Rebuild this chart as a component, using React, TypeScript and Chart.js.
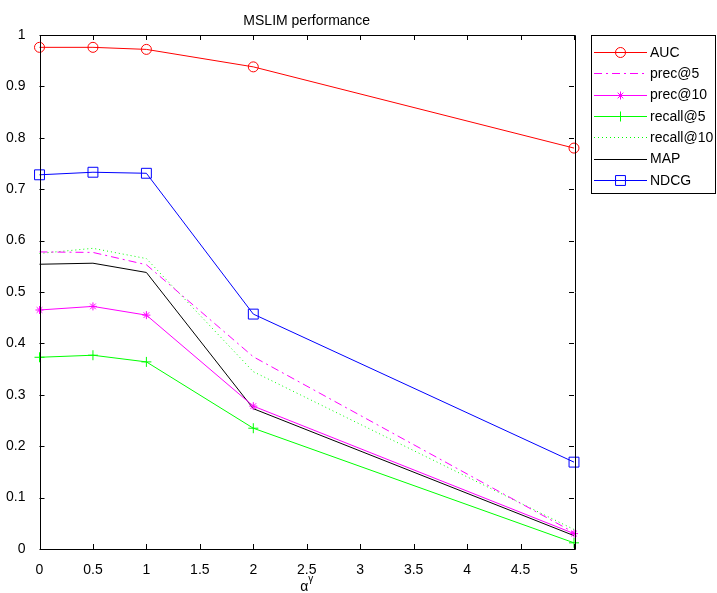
import React, { useEffect, useRef } from 'react';
import { Chart, registerables } from 'chart.js';

Chart.register(...registerables);

// ---- data ----
const xValues = [0, 0.5, 1, 2, 5];
const aucValues = [0.976, 0.976, 0.972, 0.938, 0.78];
const prec5Values = [0.578, 0.577, 0.553, 0.374, 0.032];
const prec10Values = [0.465, 0.472, 0.455, 0.278, 0.03];
const recall5Values = [0.373, 0.377, 0.364, 0.235, 0.012];
const recall10Values = [0.575, 0.585, 0.565, 0.345, 0.038];
const mapValues = [0.554, 0.556, 0.538, 0.273, 0.026];
const ndcgValues = [0.728, 0.733, 0.731, 0.457, 0.169];
const seriesNames = ['AUC', 'prec@5', 'prec@10', 'recall@5', 'recall@10', 'MAP', 'NDCG'];
const xTickValues = [0, 0.5, 1, 1.5, 2, 2.5, 3, 3.5, 4, 4.5, 5];
const yTickValues = [0, 0.1, 0.2, 0.3, 0.4, 0.5, 0.6, 0.7, 0.8, 0.9, 1];
const titleText = 'MSLIM performance';
const xLabelBase = 'α';
const xLabelSup = 'γ';

const FONT = '"Liberation Sans", Arial, Helvetica, sans-serif';

const toPoints = (vals: number[]) => vals.map((v, i) => ({ x: xValues[i], y: v }));

function drawMarker(ctx: CanvasRenderingContext2D, style: string, x: number, y: number, r: number) {
  ctx.beginPath();
  if (style === 'circle') {
    ctx.arc(x, y, r, 0, Math.PI * 2);
  } else if (style === 'rect') {
    const h = r * Math.SQRT1_2;
    ctx.rect(x - h, y - h, 2 * h, 2 * h);
  } else if (style === 'cross') {
    ctx.moveTo(x - r, y); ctx.lineTo(x + r, y);
    ctx.moveTo(x, y - r); ctx.lineTo(x, y + r);
  } else if (style === 'star') {
    ctx.moveTo(x - r, y); ctx.lineTo(x + r, y);
    ctx.moveTo(x, y - r); ctx.lineTo(x, y + r);
    const d = r * Math.SQRT1_2;
    ctx.moveTo(x - d, y - d); ctx.lineTo(x + d, y + d);
    ctx.moveTo(x - d, y + d); ctx.lineTo(x + d, y - d);
  }
  ctx.stroke();
}

const decorPlugin = {
  id: 'matlabDecor',
  afterDatasetsDraw(chart: any) {
    const ctx: CanvasRenderingContext2D = chart.ctx;
    const { left, right, top, bottom } = chart.chartArea;
    const xs = chart.scales.x;
    const ys = chart.scales.y;
    ctx.save();
    // frame
    ctx.strokeStyle = '#000';
    ctx.lineWidth = 1;
    ctx.setLineDash([]);
    ctx.beginPath();
    ctx.rect(Math.round(left) + 0.5, Math.round(top) + 0.5, Math.round(right - left), Math.round(bottom - top));
    ctx.stroke();
    // inward ticks
    const tl = 5;
    ctx.beginPath();
    xs.ticks.forEach((t: any) => {
      const px = Math.round(xs.getPixelForValue(t.value)) + 0.5;
      ctx.moveTo(px, bottom); ctx.lineTo(px, bottom - tl);
      ctx.moveTo(px, top); ctx.lineTo(px, top + tl);
    });
    ys.ticks.forEach((t: any) => {
      const py = Math.round(ys.getPixelForValue(t.value)) + 0.5;
      ctx.moveTo(left, py); ctx.lineTo(left + tl, py);
      ctx.moveTo(right, py); ctx.lineTo(right - tl, py);
    });
    ctx.stroke();

    // title
    ctx.fillStyle = '#000';
    ctx.font = `14px ${FONT}`;
    ctx.textAlign = 'center';
    ctx.textBaseline = 'middle';
    ctx.fillText(titleText, (left + right) / 2, 21);

    // x label with superscript
    ctx.font = `14px ${FONT}`;
    const wBase = ctx.measureText(xLabelBase).width;
    ctx.font = `10px ${FONT}`;
    const wSup = ctx.measureText(xLabelSup).width;
    const startX = (left + right) / 2 - (wBase + wSup) / 2;
    ctx.textAlign = 'left';
    ctx.textBaseline = 'alphabetic';
    ctx.font = `14px ${FONT}`;
    ctx.fillText(xLabelBase, startX, 591);
    ctx.font = `10px ${FONT}`;
    ctx.fillText(xLabelSup, startX + wBase, 582);

    // legend
    const bx = 591, by = 35, bw = 125, bh = 158;
    ctx.fillStyle = '#fff';
    ctx.fillRect(bx, by, bw, bh);
    ctx.strokeStyle = '#000';
    ctx.lineWidth = 1;
    ctx.strokeRect(bx + 0.5, by + 0.5, bw - 1, bh);
    chart.data.datasets.forEach((ds: any, i: number) => {
      const cy = 52 + i * 21.3;
      ctx.strokeStyle = ds.borderColor;
      ctx.lineWidth = ds.borderWidth || 1;
      ctx.setLineDash(ds.borderDash || []);
      ctx.beginPath();
      ctx.moveTo(594, Math.round(cy) + 0.5);
      ctx.lineTo(647, Math.round(cy) + 0.5);
      ctx.stroke();
      ctx.setLineDash([]);
      if (ds.pointRadius > 0) {
        drawMarker(ctx, ds.pointStyle, 620.5, Math.round(cy) + 0.5, ds.pointRadius);
      }
      ctx.fillStyle = '#000';
      ctx.font = `14px ${FONT}`;
      ctx.textAlign = 'left';
      ctx.textBaseline = 'middle';
      ctx.fillText(ds.label, 650, cy + 1);
    });
    ctx.restore();
  },
};

export default function App() {
  const ref = useRef<HTMLCanvasElement | null>(null);
  useEffect(() => {
    if (!ref.current) return;
    const base = { borderWidth: 1, fill: false, tension: 0, clip: false as any, pointBackgroundColor: 'rgba(0,0,0,0)' };
    const chart = new Chart(ref.current, {
      type: 'line',
      data: {
        datasets: [
          { ...base, label: seriesNames[0], data: toPoints(aucValues), borderColor: '#ff0000', pointBorderColor: '#ff0000', pointStyle: 'circle', pointRadius: 5 },
          { ...base, label: seriesNames[1], data: toPoints(prec5Values), borderColor: '#ff00ff', borderDash: [8, 4, 2, 4], pointRadius: 0 },
          { ...base, label: seriesNames[2], data: toPoints(prec10Values), borderColor: '#ff00ff', pointBorderColor: '#ff00ff', pointStyle: 'star', pointRadius: 4 },
          { ...base, label: seriesNames[3], data: toPoints(recall5Values), borderColor: '#00ff00', pointBorderColor: '#00ff00', pointStyle: 'cross', pointRadius: 5 },
          { ...base, label: seriesNames[4], data: toPoints(recall10Values), borderColor: '#00ff00', borderDash: [1, 3], pointRadius: 0 },
          { ...base, label: seriesNames[5], data: toPoints(mapValues), borderColor: '#000000', pointRadius: 0 },
          { ...base, label: seriesNames[6], data: toPoints(ndcgValues), borderColor: '#0000ff', pointBorderColor: '#0000ff', pointStyle: 'rect', pointRadius: 7 },
        ] as any,
      },
      options: {
        animation: false,
        responsive: false,
        layout: { padding: { left: 0, top: 35, right: 143, bottom: 0 } },
        plugins: { legend: { display: false }, title: { display: false }, tooltip: { enabled: false } },
        elements: { point: { hoverRadius: 0 } },
        scales: {
          x: {
            type: 'linear',
            min: 0,
            max: 5,
            offset: false,
            grid: { display: false },
            border: { display: false },
            afterBuildTicks: (s: any) => { s.ticks = xTickValues.map((v) => ({ value: v })); },
            afterFit: (s: any) => { s.height = 44; },
            ticks: { color: '#000', font: { family: FONT, size: 14 }, padding: 5, maxRotation: 0, autoSkip: false, callback: (v: any) => String(v) },
          },
          y: {
            type: 'linear',
            min: 0,
            max: 1,
            grid: { display: false },
            border: { display: false },
            afterBuildTicks: (s: any) => { s.ticks = yTickValues.map((v) => ({ value: v })); },
            afterFit: (s: any) => { s.width = 39.5; },
            ticks: { color: '#000', font: { family: FONT, size: 14 }, padding: 6, autoSkip: false, callback: (v: any) => String(v) },
          },
        },
      },
      plugins: [decorPlugin],
    });
    return () => chart.destroy();
  }, []);
  return (
    <div style={{ position: 'absolute', left: 0, top: 0, width: 717, height: 593, background: '#fff' }}>
      <canvas ref={ref} width={717} height={593} style={{ display: 'block', width: 717, height: 593 }} />
    </div>
  );
}
